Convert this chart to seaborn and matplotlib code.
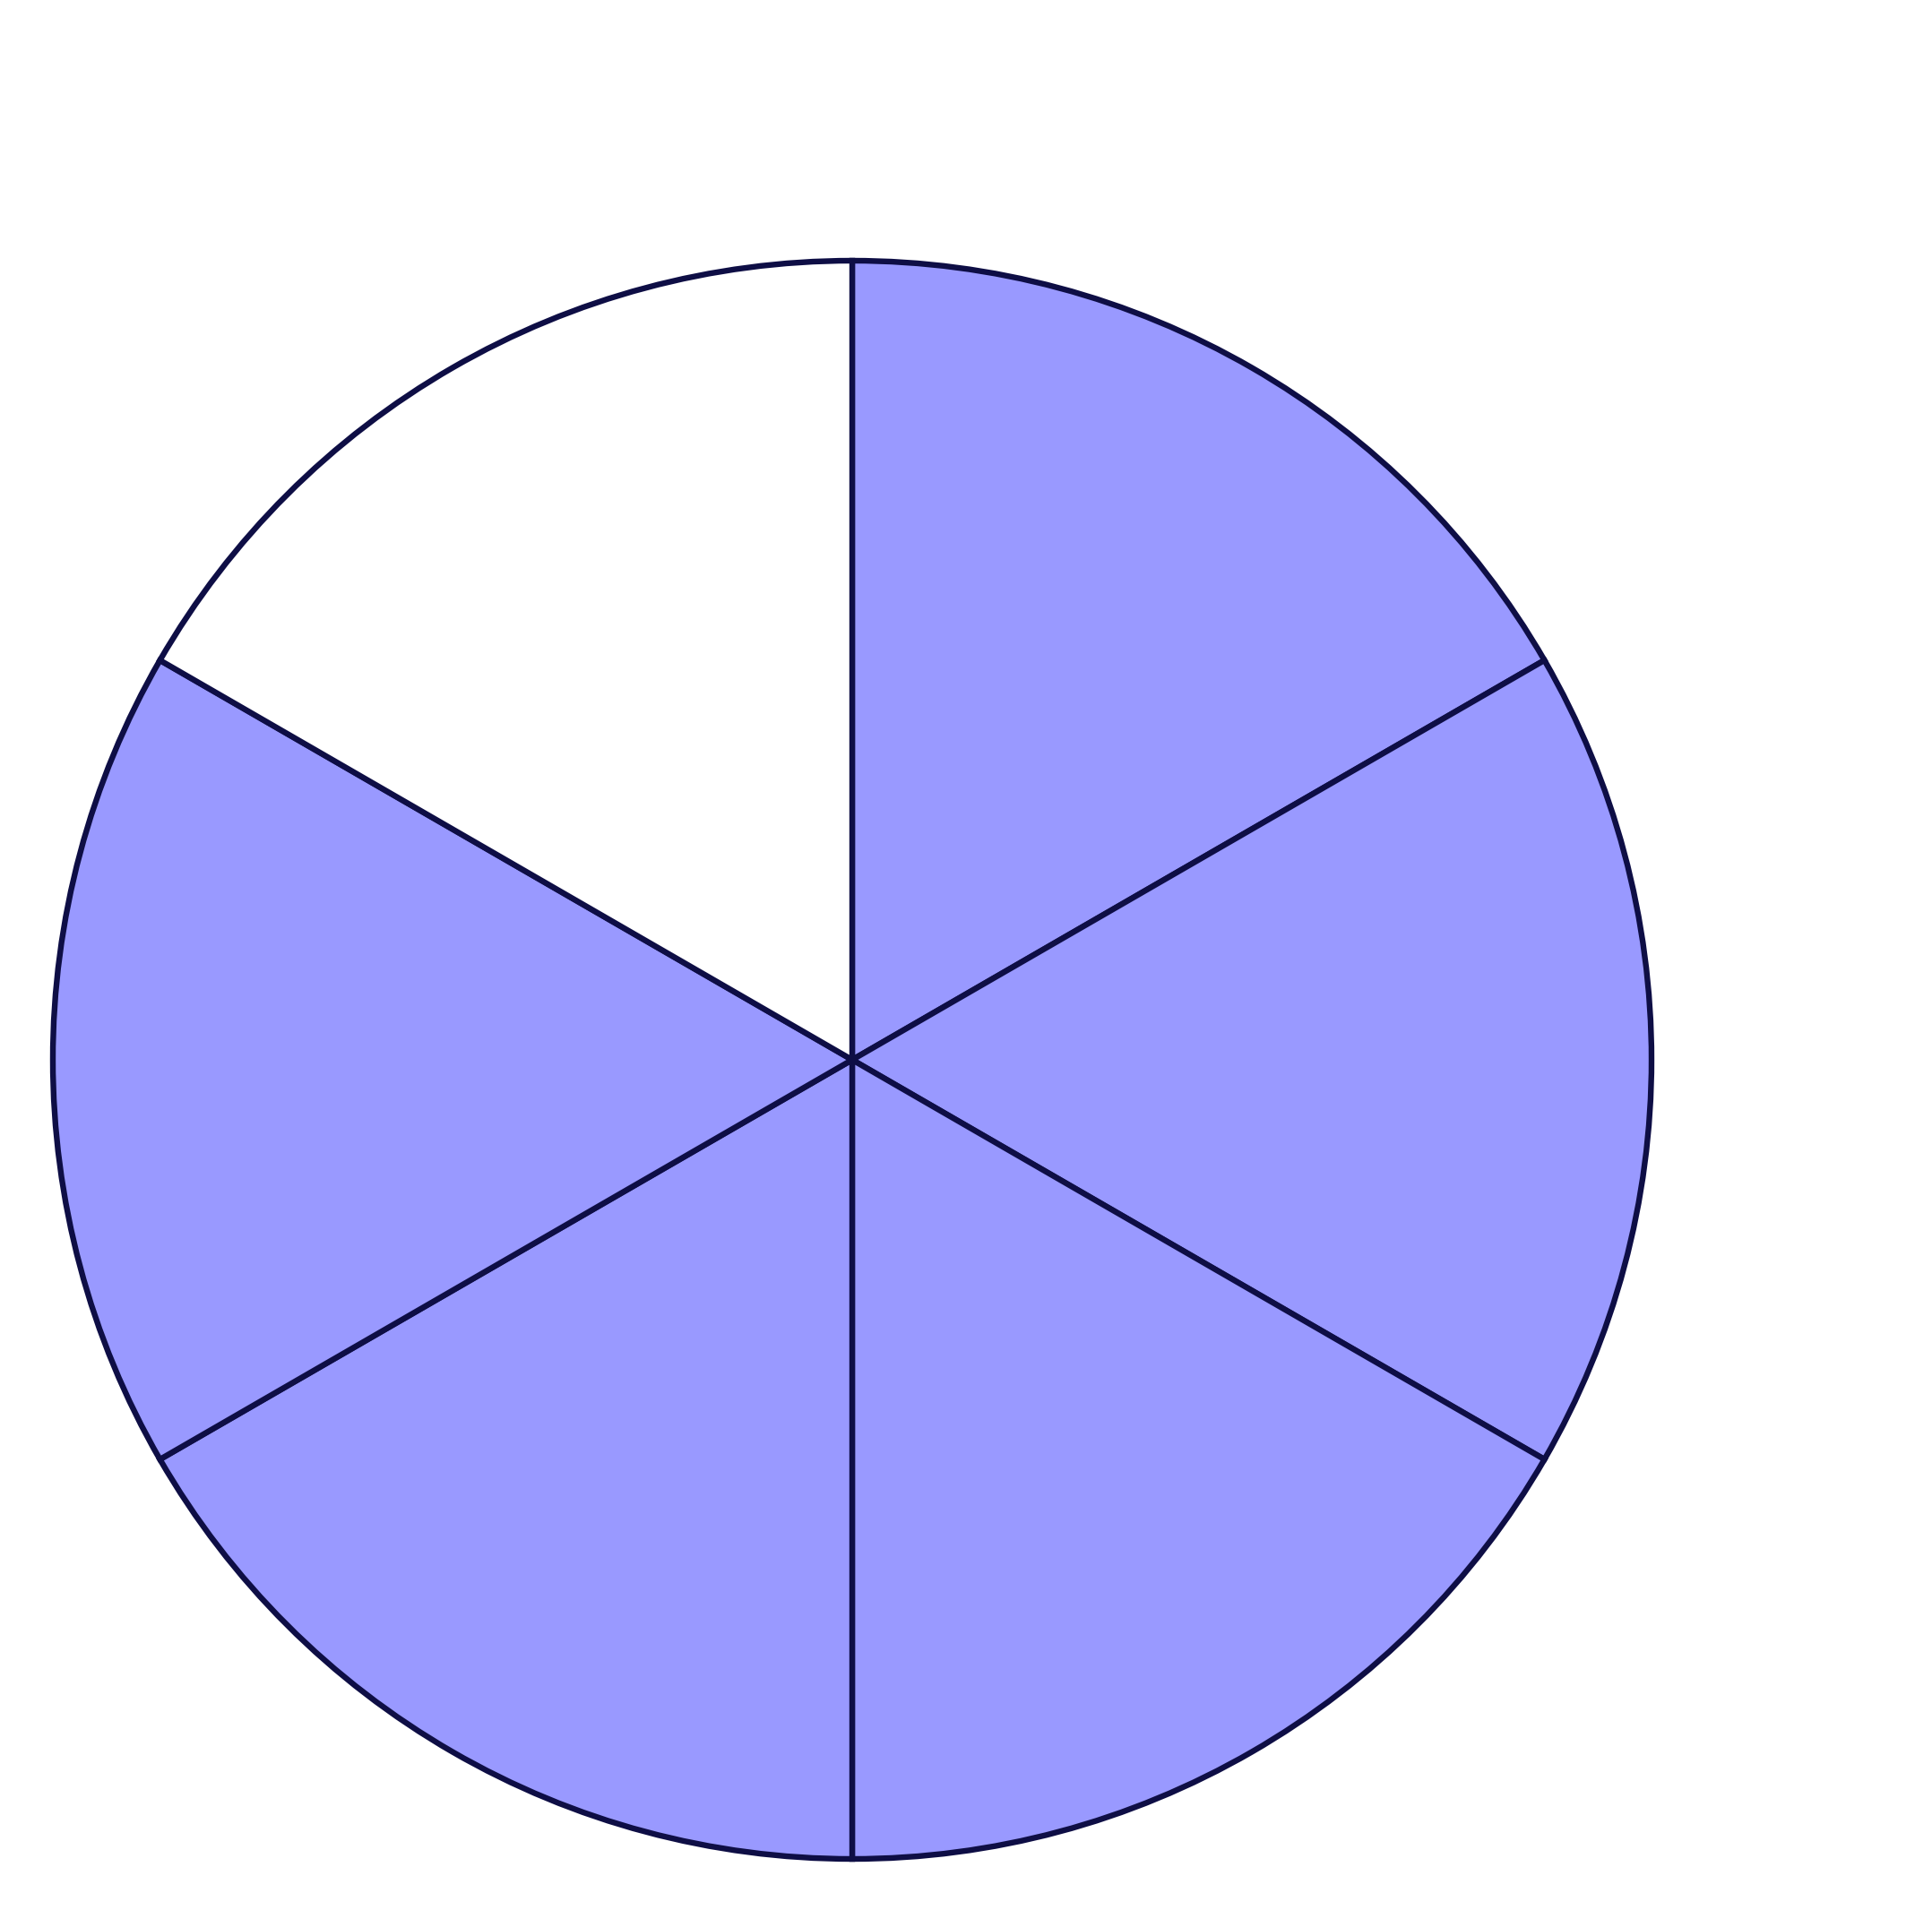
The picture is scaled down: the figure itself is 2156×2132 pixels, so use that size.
import matplotlib
matplotlib.use("Agg")
import matplotlib.pyplot as plt
import seaborn as sns

sns.set_style("white")

segments = ["1", "2", "3", "4", "5", "6"]
values = [1, 1, 1, 1, 1, 1]
shaded = [True, True, True, True, True, False]

fill_color = "#9999FF"
colors = [fill_color if s else "#FFFFFF" for s in shaded]

fig = plt.figure(figsize=(21.56, 21.32), dpi=100)
fig.patch.set_facecolor("white")
ax = fig.add_axes([59 / 2156, 57 / 2132, 1784 / 2156, 1784 / 2132])
ax.pie(values, colors=colors, startangle=90, counterclock=False,
       wedgeprops=dict(edgecolor="#0e0e45", linewidth=4.6), radius=1.0)
ax.set_xlim(-1, 1)
ax.set_ylim(-1, 1)
ax.set_aspect("equal")
ax.axis("off")
fig.savefig("out.png", dpi=100, facecolor="white")
